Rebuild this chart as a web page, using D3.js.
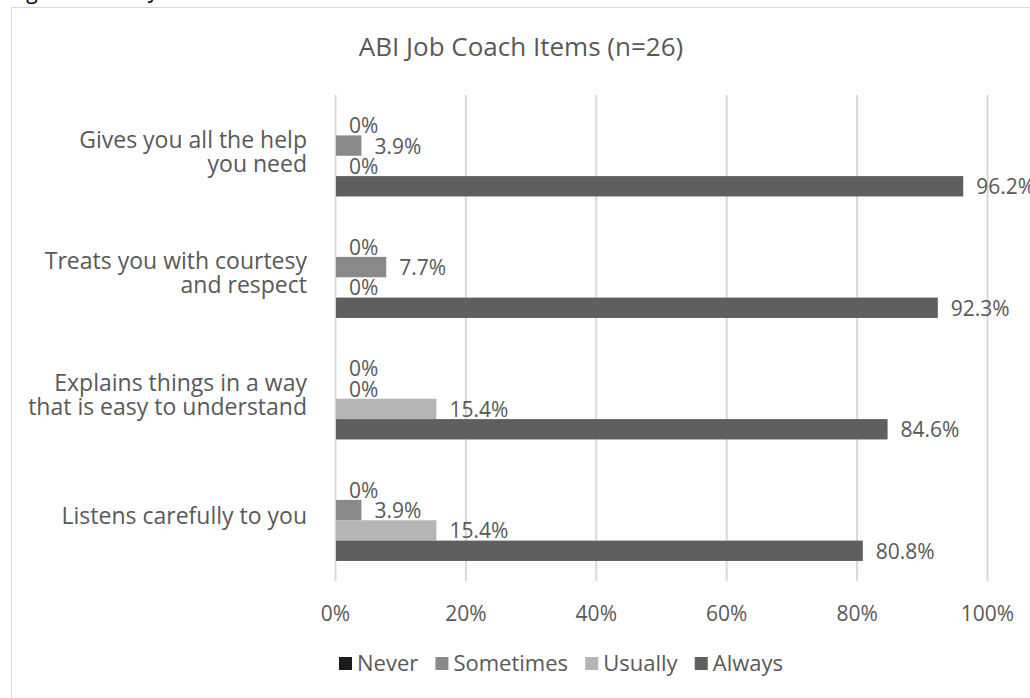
<!DOCTYPE html>
<html>
<head>
<meta charset="utf-8">
<script src="https://cdn.jsdelivr.net/npm/d3@7"></script>
<style>
  body { margin: 0; background: #fff; }
  text { font-family: "Open Sans", "Noto Sans", sans-serif; fill: #595959; }
</style>
</head>
<body>
<svg width="1030" height="698"></svg>
<script>
var categories = [
  "Gives you all the help\nyou need",
  "Treats you with courtesy\nand respect",
  "Explains things in a way\nthat is easy to understand",
  "Listens carefully to you"
];
var seriesNames = ["Never", "Sometimes", "Usually", "Always"];
var never = [0, 0, 0, 0];
var sometimes = [3.9, 7.7, 0, 3.9];
var usually = [0, 0, 15.4, 15.4];
var always = [96.2, 92.3, 84.6, 80.8];
var colors = ["#1b1b1b", "#898989", "#b5b5b5", "#5f5f5f"];
var ticks = [0, 20, 40, 60, 80, 100];

var seriesValues = [never, sometimes, usually, always];

var svg = d3.select("svg");

// caption above the frame, mostly cut off by the page edge
svg.append("text")
  .attr("x", 10)
  .attr("y", -1)
  .style("font-size", "21px")
  .style("fill", "#000")
  .text("Figure 10: ABI Job Coach Items");

// chart frame
svg.append("rect")
  .attr("x", 11.5)
  .attr("y", 7.5)
  .attr("width", 1030)
  .attr("height", 700)
  .attr("fill", "#fff")
  .attr("stroke", "#d9d9d9")
  .attr("stroke-width", 1);

var margins = { left: 335, right: 987, top: 95, bottom: 581 };

var xScale = d3.scaleLinear()
  .domain([0, 100])
  .range([margins.left, margins.right]);

var yScale = d3.scaleBand()
  .domain(categories)
  .range([margins.top, margins.bottom])
  .paddingInner(0.33)
  .paddingOuter(0.165);

var inner = d3.scaleBand()
  .domain(seriesNames)
  .range([0, yScale.bandwidth()]);

// gridlines
svg.append("g")
  .selectAll("line")
  .data(ticks)
  .enter()
  .append("line")
  .attr("x1", function(d) { return xScale(d) + 0.5; })
  .attr("x2", function(d) { return xScale(d) + 0.5; })
  .attr("y1", margins.top)
  .attr("y2", margins.bottom)
  .attr("stroke", "#d9d9d9")
  .attr("stroke-width", 2);

// tick labels
var xAxis = d3.axisBottom(xScale)
  .tickValues(ticks)
  .tickSize(0)
  .tickPadding(0)
  .tickFormat(function(d) { return d + "%"; });

var axisG = svg.append("g")
  .attr("transform", "translate(0," + 621 + ")")
  .call(xAxis);
axisG.select(".domain").remove();
axisG.selectAll("text")
  .attr("dy", null)
  .style("font-size", "21px")
  .style("fill", "#595959")
  .style("font-family", "'Open Sans', sans-serif");

// bars
var rows = [];
categories.forEach(function(c, i) {
  seriesNames.forEach(function(s, j) {
    rows.push({ cat: c, series: s, value: seriesValues[j][i], color: colors[j] });
  });
});

svg.append("g")
  .selectAll("rect")
  .data(rows)
  .enter()
  .append("rect")
  .attr("x", xScale(0) + 1)
  .attr("y", function(d) { return yScale(d.cat) + inner(d.series); })
  .attr("width", function(d) { return Math.max(0, xScale(d.value) - xScale(0)); })
  .attr("height", inner.bandwidth())
  .attr("fill", function(d) { return d.color; });

// value labels
svg.append("g")
  .selectAll("text")
  .data(rows)
  .enter()
  .append("text")
  .attr("x", function(d) { return xScale(d.value) + 14; })
  .attr("y", function(d) { return yScale(d.cat) + inner(d.series) + inner.bandwidth() / 2 + 8; })
  .style("font-size", "21px")
  .text(function(d) { return d.value === 0 ? "0%" : d.value.toFixed(1) + "%"; });

// category labels
var catG = svg.append("g")
  .selectAll("text")
  .data(categories)
  .enter()
  .append("text")
  .attr("text-anchor", "end")
  .style("font-size", "23px")
  .attr("y", function(d) { return yScale(d) + yScale.bandwidth() / 2; });

catG.each(function(d) {
  var lines = d.split("\n");
  var t = d3.select(this);
  var lh = 24;
  var start = -((lines.length - 1) * lh) / 2 + 4;
  lines.forEach(function(l, k) {
    t.append("tspan")
      .attr("x", 307)
      .attr("dy", k === 0 ? start : lh)
      .text(l);
  });
});

// title
svg.append("text")
  .attr("x", 521)
  .attr("y", 56)
  .attr("text-anchor", "middle")
  .style("font-size", "26px")
  .text("ABI Job Coach Items (n=26)");

// legend, laid out from measured text widths
var legend = svg.append("g");
var legendLeft = 339, legendRight = 783, box = 13, boxGap = 5;
var items = seriesNames.map(function(name, i) {
  var g = legend.append("g");
  g.append("rect")
    .attr("y", -6)
    .attr("width", box)
    .attr("height", box)
    .attr("fill", colors[i]);
  var t = g.append("text")
    .attr("x", box + boxGap)
    .attr("y", 8)
    .style("font-size", "22px")
    .text(name);
  return { g: g, w: box + boxGap + t.node().getComputedTextLength() };
});
var totalW = d3.sum(items, function(d) { return d.w; });
var gap = (legendRight - legendLeft - totalW) / (items.length - 1);
var cx = legendLeft;
items.forEach(function(it) {
  it.g.attr("transform", "translate(" + cx + "," + 663 + ")");
  cx += it.w + gap;
});
</script>
</body>
</html>
